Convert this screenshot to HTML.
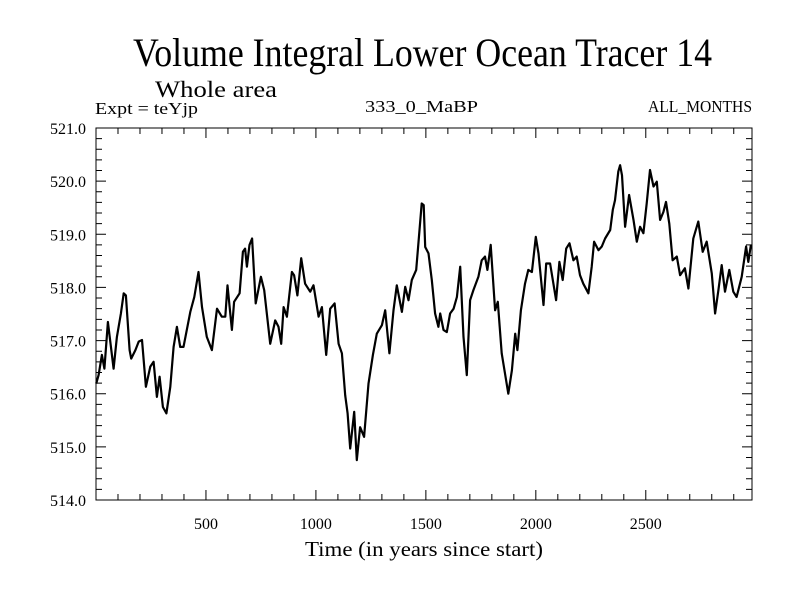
<!DOCTYPE html>
<html><head><meta charset="utf-8"><style>
html,body{margin:0;padding:0;background:#fff;}
svg{display:block;font-family:"Liberation Serif","DejaVu Serif",serif;}
</style></head><body>
<svg id="chart" width="800" height="600" viewBox="0 0 800 600" xmlns="http://www.w3.org/2000/svg">
<rect width="800" height="600" fill="#fff"/>
<text x="133" y="66" font-size="40" textLength="579" lengthAdjust="spacingAndGlyphs">Volume Integral Lower Ocean Tracer 14</text>
<text x="155" y="97" font-size="23" textLength="122" lengthAdjust="spacingAndGlyphs">Whole area</text>
<text x="95" y="114" font-size="17" textLength="103" lengthAdjust="spacingAndGlyphs">Expt = teYjp</text>
<text x="365" y="112" font-size="17" textLength="113" lengthAdjust="spacingAndGlyphs">333_0_MaBP</text>
<text x="648" y="112" font-size="17" textLength="104" lengthAdjust="spacingAndGlyphs">ALL_MONTHS</text>
<text x="305" y="556" font-size="21" textLength="238" lengthAdjust="spacingAndGlyphs">Time (in years since start)</text>
<g id="axes"></g>
<g id="series"></g>
</svg>
<script>
const years=[1,12,27,38,54,80,95,113,126,136,153,160,179,194,209,227,247,262,277,289,304,320,338,353,368,383,398,413,429,447,466,482,504,527,550,572,588,598,618,628,653,668,678,686,698,710,726,750,765,792,815,830,842,853,868,891,901,916,933,951,974,989,1012,1027,1047,1065,1085,1103,1118,1133,1144,1156,1174,1186,1201,1219,1239,1259,1277,1300,1315,1334,1353,1368,1391,1406,1421,1436,1456,1481,1490,1497,1512,1527,1542,1557,1565,1580,1595,1610,1626,1641,1656,1671,1686,1701,1716,1739,1754,1769,1780,1795,1815,1827,1845,1860,1875,1891,1906,1916,1932,1951,1966,1982,2000,2012,2035,2047,2065,2092,2107,2122,2138,2153,2171,2186,2201,2216,2239,2254,2265,2285,2300,2315,2338,2350,2360,2375,2383,2392,2406,2424,2444,2459,2474,2489,2504,2519,2535,2550,2565,2580,2592,2607,2622,2641,2656,2678,2694,2716,2739,2759,2777,2800,2815,2830,2845,2860,2880,2898,2913,2936,2956,2966,2978];
const tracer=[516.19,516.35,516.73,516.47,517.35,516.47,517.07,517.51,517.89,517.85,516.82,516.66,516.82,516.98,517.01,516.13,516.51,516.6,515.94,516.32,515.75,515.63,516.13,516.88,517.26,516.88,516.88,517.2,517.54,517.82,518.29,517.63,517.07,516.82,517.6,517.45,517.45,518.04,517.2,517.73,517.89,518.67,518.73,518.39,518.8,518.92,517.7,518.2,517.95,516.94,517.38,517.26,516.94,517.63,517.45,518.29,518.23,517.85,518.55,518.07,517.92,518.04,517.45,517.63,516.73,517.6,517.7,516.94,516.76,515.97,515.63,514.97,515.66,514.75,515.37,515.19,516.19,516.73,517.13,517.29,517.57,516.76,517.57,518.04,517.54,518.01,517.76,518.14,518.33,519.58,519.55,518.76,518.64,518.14,517.51,517.26,517.51,517.2,517.16,517.51,517.6,517.82,518.39,517.07,516.35,517.76,517.95,518.2,518.51,518.58,518.33,518.8,517.57,517.73,516.76,516.38,516.0,516.44,517.13,516.82,517.57,518.07,518.33,518.29,518.95,518.64,517.67,518.45,518.45,517.76,518.48,518.14,518.73,518.83,518.51,518.58,518.23,518.07,517.89,518.39,518.86,518.7,518.77,518.92,519.08,519.46,519.64,520.18,520.3,520.11,519.14,519.74,519.27,518.86,519.14,519.02,519.58,520.21,519.9,519.99,519.27,519.42,519.61,519.2,518.51,518.58,518.23,518.36,517.98,518.92,519.24,518.67,518.86,518.26,517.51,517.95,518.42,517.92,518.33,517.92,517.82,518.2,518.77,518.48,518.8];
const xTickLabels=["500","1000","1500","2000","2500"];
const yTickLabels=["514.0","515.0","516.0","517.0","518.0","519.0","520.0","521.0"];
const NS="http://www.w3.org/2000/svg";
const L=96,R=752,T=128,B=500,XMIN=0,XMAX=2983,YMIN=514,YMAX=521;
function xs(v){return L+(v-XMIN)/(XMAX-XMIN)*(R-L);}
function ys(v){return B-(v-YMIN)/(YMAX-YMIN)*(B-T);}
const axes=document.getElementById('axes');
function mk(tag,attrs,parent){const e=document.createElementNS(NS,tag);for(const k in attrs)e.setAttribute(k,attrs[k]);parent.appendChild(e);return e;}
const frame=mk('rect',{x:L,y:T,width:R-L,height:B-T,fill:'none',stroke:'#000','stroke-width':1},axes);


let d='';
for(let v=100;v<XMAX;v+=100){const x=xs(v);const len=(v%500===0)?10:6;d+=`M${x},${B}v${-len}M${x},${T}v${len}`;}
for(let i=0;i<=35;i++){const v=YMIN+i*0.2;const y=ys(v);const len=(i%5===0)?10:6;d+=`M${L},${y}h${len}M${R},${y}h${-len}`;}
const ticks=mk('path',{d:d,stroke:'#000','stroke-width':1,fill:'none'},axes);


xTickLabels.forEach(function(s){const t=mk('text',{x:xs(parseFloat(s)),y:529,'font-size':16,'text-anchor':'middle'},axes);t.textContent=s;

});
yTickLabels.forEach(function(s){const t=mk('text',{x:86,y:ys(parseFloat(s))+6,'font-size':16,'text-anchor':'end'},axes);t.textContent=s;

});
let pd='';
years.forEach(function(yr,i){pd+=(i?'L':'M')+xs(yr).toFixed(1)+','+ys(tracer[i]).toFixed(1);});
const line=mk('path',{d:pd,fill:'none',stroke:'#000','stroke-width':2.2,'stroke-linejoin':'round'},document.getElementById('series'));


</script>
</body></html>
